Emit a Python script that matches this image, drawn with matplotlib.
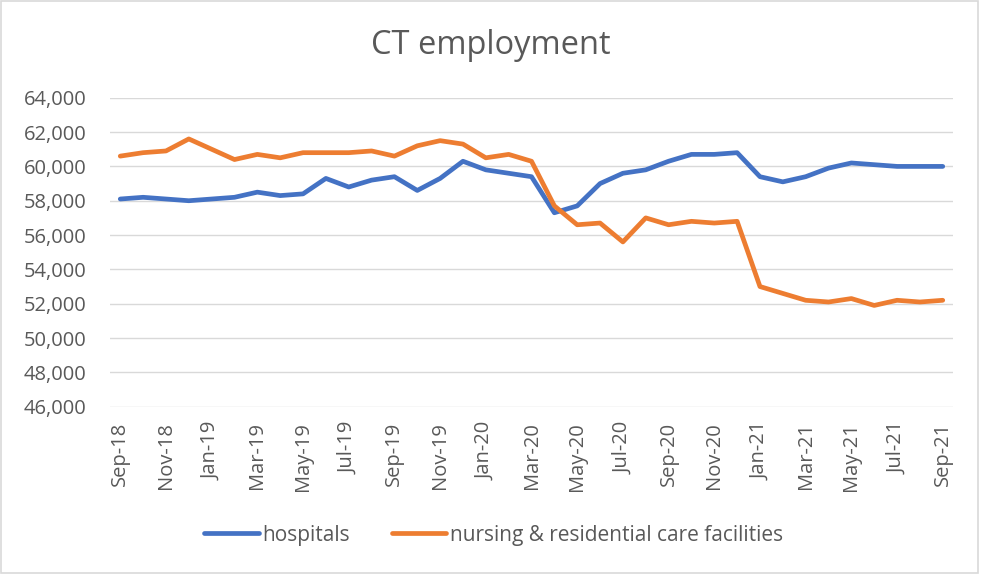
import matplotlib
matplotlib.use("Agg")
import matplotlib.pyplot as plt
from matplotlib.patches import Rectangle
from matplotlib.ticker import FuncFormatter

plt.rcParams['font.family'] = ['Open Sans', 'DejaVu Sans']

months = ["Sep-18", "Oct-18", "Nov-18", "Dec-18", "Jan-19", "Feb-19", "Mar-19", "Apr-19",
          "May-19", "Jun-19", "Jul-19", "Aug-19", "Sep-19", "Oct-19", "Nov-19", "Dec-19",
          "Jan-20", "Feb-20", "Mar-20", "Apr-20", "May-20", "Jun-20", "Jul-20", "Aug-20",
          "Sep-20", "Oct-20", "Nov-20", "Dec-20", "Jan-21", "Feb-21", "Mar-21", "Apr-21",
          "May-21", "Jun-21", "Jul-21", "Aug-21", "Sep-21"]

hospitals = [58100, 58200, 58100, 58000, 58100, 58200, 58500, 58300, 58400, 59300,
             58800, 59200, 59400, 58600, 59300, 60300, 59800, 59600, 59400, 57300,
             57700, 59000, 59600, 59800, 60300, 60700, 60700, 60800, 59400, 59100,
             59400, 59900, 60200, 60100, 60000, 60000, 60000]

nursing = [60600, 60800, 60900, 61600, 61000, 60400, 60700, 60500, 60800, 60800,
           60800, 60900, 60600, 61200, 61500, 61300, 60500, 60700, 60300, 57700,
           56600, 56700, 55600, 57000, 56600, 56800, 56700, 56800, 53000, 52600,
           52200, 52100, 52300, 51900, 52200, 52100, 52200]

series_names = ["hospitals", "nursing & residential care facilities"]
colors = ["#4472C4", "#ED7D31"]
yticks = list(range(46000, 64001, 2000))

fig = plt.figure(figsize=(9.82, 5.75), dpi=100)
ax = fig.add_axes([0.112, 0.2927, 0.8585, 0.5373])

x = list(range(len(months)))
for vals, name, c in zip([hospitals, nursing], series_names, colors):
    ax.plot(x, vals, color=c, lw=3.4, label=name, solid_joinstyle='round', solid_capstyle='round', zorder=3)

ax.set_ylim(46000, 64000)
ax.set_xlim(-0.45, len(months) - 1 + 0.45)
ax.set_yticks(yticks)
ax.yaxis.set_major_formatter(FuncFormatter(lambda v, p: f"{int(v):,}"))
ax.set_xticks(x[::2])
ax.set_xticklabels(months[::2], rotation=90)
ax.grid(axis='y', color='#D9D9D9', lw=1.0, zorder=0)
for s in ax.spines.values():
    s.set_visible(False)
ax.tick_params(axis='both', length=0, labelsize=14.5, colors='#595959')
ax.tick_params(axis='x', pad=11)
ax.tick_params(axis='y', pad=17)

fig.text(0.5, 1 - 45 / 575, "CT employment", ha='center', va='center', fontsize=23.5, color='#595959')

handles, labels = ax.get_legend_handles_labels()
fig.legend(handles, labels, loc='center', bbox_to_anchor=(0.503, 1 - 535 / 575), ncol=2,
           frameon=False, fontsize=15, labelcolor='#595959', handlelength=2.6,
           handletextpad=0.2, columnspacing=2.0)

fig.patches.append(Rectangle((0.001, 0.003), 0.995, 0.995, transform=fig.transFigure,
                             fill=False, edgecolor='#D9D9D9', lw=1.2))

fig.savefig("out.png", dpi=100, facecolor='white')
